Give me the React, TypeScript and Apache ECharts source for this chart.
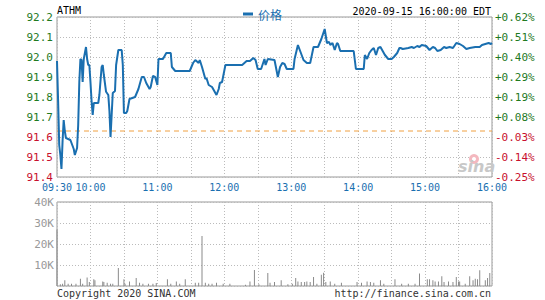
import React, { useEffect, useRef } from "react";
import * as echarts from "echarts";

// ---- data ----
const symbol = "ATHM";
const dateText = "2020-09-15 16:00:00 EDT";
const prevClose = 91.63;

const priceTimes = [
  "09:30","09:31","09:32","09:33","09:34","09:35","09:36","09:37","09:38","09:42",
  "09:45","09:46","09:48","09:49","09:50","09:51","09:52","09:53","09:54","09:56",
  "09:57","09:58","09:59","10:00","10:01","10:02","10:03","10:07","10:08","10:10",
  "10:11","10:12","10:14","10:16","10:17","10:18","10:19","10:20","10:22","10:23",
  "10:25","10:28","10:29","10:30","10:32","10:33","10:35","10:40","10:43","10:46",
  "10:48","10:50","10:53","10:54","10:56","10:58","11:00","11:01","11:05","11:08",
  "11:12","11:13","11:16","11:29","11:32","11:34","11:37","11:38","11:40","11:43",
  "11:44","11:46","11:49","11:52","11:53","11:55","11:56","11:58","12:01","12:16",
  "12:20","12:23","12:26","12:28","12:30","12:33","12:36","12:37","12:39","12:45",
  "12:48","12:50","12:52","12:54","12:56","13:02","13:03","13:06","13:08","13:11",
  "13:14","13:17","13:20","13:24","13:27","13:30","13:32","13:34","13:35","13:37",
  "13:39","13:41","13:42","13:44","13:56","13:58","14:05","14:06","14:08","14:10",
  "14:12","14:14","14:16","14:18","14:20","14:22","14:24","14:27","14:30","14:32",
  "14:35","14:37","14:38","14:40","14:45","14:48","14:50","14:53","14:55","14:57",
  "15:01","15:04","15:07","15:09","15:11","15:14","15:17","15:19","15:22","15:25",
  "15:28","15:31","15:34","15:37","15:40","15:45","15:49","15:51","15:54","15:57",
  "15:59","16:00",
];
const prices = [
  91.98,91.78,91.56,91.51,91.44,91.58,91.685,91.63,91.595,91.585,
  91.54,91.51,91.545,91.66,91.875,91.99,91.985,91.875,91.99,92.05,
  91.99,91.96,91.96,91.875,91.78,91.71,91.77,91.77,91.81,91.95,
  91.96,91.91,91.826,91.81,91.73,91.60,91.71,91.82,91.83,91.96,
  92.035,92.035,91.96,91.72,91.72,91.73,91.79,91.80,91.84,91.90,
  91.90,91.87,91.84,91.85,91.905,91.90,91.86,91.99,91.99,92.02,
  92.02,91.95,91.93,91.93,91.97,91.985,91.97,91.985,91.95,91.89,
  91.895,91.86,91.85,91.82,91.81,91.84,91.87,91.875,91.96,91.96,
  91.98,91.98,91.995,91.985,91.94,91.94,91.99,91.96,91.99,91.985,
  91.90,91.95,91.97,91.965,91.94,91.94,91.99,92.06,92.03,91.985,
  91.97,91.97,92.05,92.05,92.09,92.14,92.07,92.075,92.06,92.07,
  92.035,92.07,92.065,92.03,92.03,91.94,91.94,92.01,91.99,92.02,
  92.035,92.045,92.01,92.045,92.05,92.03,92.01,91.99,91.99,92.00,
  92.02,92.045,92.045,92.04,92.045,92.05,92.045,92.055,92.05,92.06,
  92.055,92.035,92.05,92.045,92.03,92.035,92.05,92.045,92.05,92.045,
  92.07,92.065,92.055,92.04,92.045,92.05,92.05,92.06,92.065,92.07,
  92.065,92.07,
];

const volumeTimes = [
  "09:30","09:33","09:35","09:37","09:40","09:43","09:47","09:51","09:53","09:57",
  "09:59","10:03","10:04","10:11","10:12","10:15","10:18","10:20","10:25","10:30",
  "10:31","10:35","10:41","10:44","10:47","10:52","10:56","10:59","11:09","11:12",
  "11:17","11:20","11:25","11:34","11:37","11:40","11:43","11:46","11:49","11:53",
  "11:59","12:05","12:19","12:23","12:27","12:31","12:39","12:41","12:45","12:51",
  "12:57","13:01","13:04","13:06","13:09","13:12","13:14","13:17","13:20","13:23",
  "13:27","13:29","13:31","13:35","13:39","13:45","13:59","14:03","14:08","14:11",
  "14:14","14:20","14:23","14:33","14:39","14:45","14:51","14:55","15:02","15:04",
  "15:07","15:09","15:12","15:15","15:17","15:21","15:25","15:28","15:30","15:31",
  "15:36","15:40","15:43","15:45","15:47","15:49","15:54","15:56","15:58",
];
const volumes = [
  26900,800,1100,2700,1100,1100,1100,3500,1100,4100,
  1900,3200,2700,2200,1900,1600,1100,1100,8600,3200,
  1100,2200,3800,1600,1100,1100,1100,1400,3200,1100,
  2200,1100,3200,1600,1600,23800,1600,1100,1100,1600,
  1100,1100,600,2200,7600,800,6200,1600,1900,2700,
  800,1100,3800,2200,1900,1900,2200,1900,4300,1100,
  5400,6300,1900,2200,1100,1600,1900,1600,2200,1900,
  1600,2700,1100,3200,1100,1100,1100,5900,3200,3200,
  2700,2200,2200,4600,1900,2200,1900,4300,2200,2200,
  1100,4600,2700,3500,3200,7500,2700,3800,6200,
];

const priceTicks = { min: 91.4, max: 92.2, step: 0.1 };
const volumeTicks = { min: 0, max: 40000, step: 10000 };
const sessionStart = "09:30";
const sessionEnd = "16:00";

// ---- helpers ----
const toMin = (t: string) => {
  const [h, m] = t.split(":").map(Number);
  return h * 60 + m;
};
const startMin = toMin(sessionStart);
const spanMin = toMin(sessionEnd) - startMin;
const fmtTime = (m: number) => {
  const t = startMin + m;
  const h = Math.floor(t / 60);
  const mm = t % 60;
  return `${String(h).padStart(2, "0")}:${String(mm).padStart(2, "0")}`;
};

const MONO = "'DejaVu Sans Mono', 'Liberation Mono', monospace";
const GREEN = "#1f7a1f";
const RED = "#c8102e";
const BLUE = "#1a6fb0";

export default function App() {
  const ref = useRef<HTMLDivElement>(null);
  useEffect(() => {
    if (!ref.current) return;
    const chart = echarts.init(ref.current, undefined, { renderer: "svg" });
    const priceData = priceTimes.map((t, i) => [toMin(t) - startMin, prices[i]]);
    const volData = volumeTimes.map((t, i) => [toMin(t) - startMin, volumes[i]]);
    const prevCloseData = [[0, prevClose], [spanMin, prevClose]];
    const splitDotted = { show: true, lineStyle: { color: "#bbb", type: [1, 2] as any, width: 1 } };

    chart.setOption({
      animation: false,
      backgroundColor: "#fff",
      legend: {
        left: 238,
        top: 3,
        icon: "rect",
        itemWidth: 10,
        itemHeight: 3,
        itemGap: 6,
        textStyle: { color: BLUE, fontSize: 12, fontFamily: "'Noto Sans CJK SC', sans-serif" },
        data: ["价格"],
      },
      grid: [
        { left: 57, top: 17, width: 435, height: 160, show: true, borderColor: "#999", borderWidth: 1, backgroundColor: "transparent" },
        { left: 57, top: 202, width: 435, height: 84, show: true, borderColor: "#999", borderWidth: 1, backgroundColor: "transparent" },
      ],
      xAxis: [
        {
          type: "value", gridIndex: 0, min: 0, max: spanMin, interval: 30,
          axisLine: { show: false }, axisTick: { show: false },
          splitLine: splitDotted,
          axisLabel: {
            color: BLUE, fontFamily: MONO, fontSize: 10, margin: 5,
            showMinLabel: true, showMaxLabel: true,
            formatter: (v: number) => (v === 0 || (v - 30) % 60 === 0 ? fmtTime(v) : ""),
          },
        },
        {
          type: "value", gridIndex: 1, min: 0, max: spanMin, interval: 30,
          axisLine: { show: false }, axisTick: { show: false },
          splitLine: splitDotted, axisLabel: { show: false },
        },
      ],
      yAxis: [
        {
          type: "value", gridIndex: 0, min: priceTicks.min, max: priceTicks.max, interval: priceTicks.step,
          axisLine: { show: false }, axisTick: { show: false },
          splitLine: splitDotted,
          axisLabel: {
            fontFamily: MONO, fontSize: 11, margin: 4,
            formatter: (v: number) => (v >= prevClose ? `{g|${v.toFixed(1)}}` : `{r|${v.toFixed(1)}}`),
            rich: {
              g: { color: GREEN, fontFamily: MONO, fontSize: 11 },
              r: { color: RED, fontFamily: MONO, fontSize: 11 },
            },
          },
        },
        {
          type: "value", gridIndex: 0, position: "right", min: priceTicks.min, max: priceTicks.max, interval: priceTicks.step,
          axisLine: { show: false }, axisTick: { show: false }, splitLine: { show: false },
          axisLabel: {
            fontFamily: MONO, fontSize: 11, margin: 3,
            formatter: (v: number) => {
              const p = (v / prevClose - 1) * 100;
              const s = (p >= 0 ? "+" : "-") + Math.abs(p).toFixed(2) + "%";
              return p >= 0 ? `{g|${s}}` : `{r|${s}}`;
            },
            rich: {
              g: { color: GREEN, fontFamily: MONO, fontSize: 11 },
              r: { color: RED, fontFamily: MONO, fontSize: 11 },
            },
          },
        },
        {
          type: "value", gridIndex: 1, min: volumeTicks.min, max: volumeTicks.max, interval: volumeTicks.step,
          axisLine: { show: false }, axisTick: { show: false },
          splitLine: splitDotted,
          axisLabel: {
            color: "#999", fontFamily: MONO, fontSize: 11, margin: 3,
            formatter: (v: number) => (v === 0 ? "" : `${v / 1000}K`),
          },
        },
      ],
      series: [
        {
          name: "prevClose",
          type: "line",
          xAxisIndex: 0,
          yAxisIndex: 0,
          data: prevCloseData,
          symbol: "none",
          silent: true,
          lineStyle: { color: "#f0a040", type: [5, 4] as any, width: 1 },
          itemStyle: { color: "#f0a040" },
          z: 2,
        },
        {
          name: "价格",
          type: "line",
          xAxisIndex: 0,
          yAxisIndex: 0,
          data: priceData,
          symbol: "none",
          color: BLUE,
          lineStyle: { color: BLUE, width: 2 },
          z: 3,
        },
        {
          name: "volume",
          type: "bar",
          xAxisIndex: 1,
          yAxisIndex: 2,
          data: volData,
          barWidth: 1,
          itemStyle: { color: "#8a8a8a" },
        },
      ],
      graphic: [
        { type: "text", left: 57, top: 5, style: { text: symbol, fill: "#000", font: `10px ${MONO}` } },
        { type: "text", right: 54, top: 6, style: { text: dateText, fill: "#000", font: `10px ${MONO}` } },
        { type: "text", left: 57, top: 288, style: { text: "Copyright 2020 SINA.COM", fill: "#333", font: `10px ${MONO}` } },
        { type: "text", right: 54, top: 288, style: { text: "http://finance.sina.com.cn", fill: "#333", font: `10px ${MONO}` } },
        { type: "circle", shape: { cx: 474, cy: 159, r: 5 }, style: { fill: "#f4b8bf" }, z: 1 },
        { type: "circle", shape: { cx: 474, cy: 159, r: 2 }, style: { fill: "#fff" }, z: 1 },
        { type: "text", left: 458, top: 158, style: { text: "sina", fill: "#c8c8c8", font: `italic bold 16px 'DejaVu Sans', sans-serif` }, z: 1 },
      ],
    });
    return () => chart.dispose();
  }, []);
  return <div ref={ref} style={{ position: "absolute", left: 0, top: 0, width: 545, height: 300 }} />;
}
